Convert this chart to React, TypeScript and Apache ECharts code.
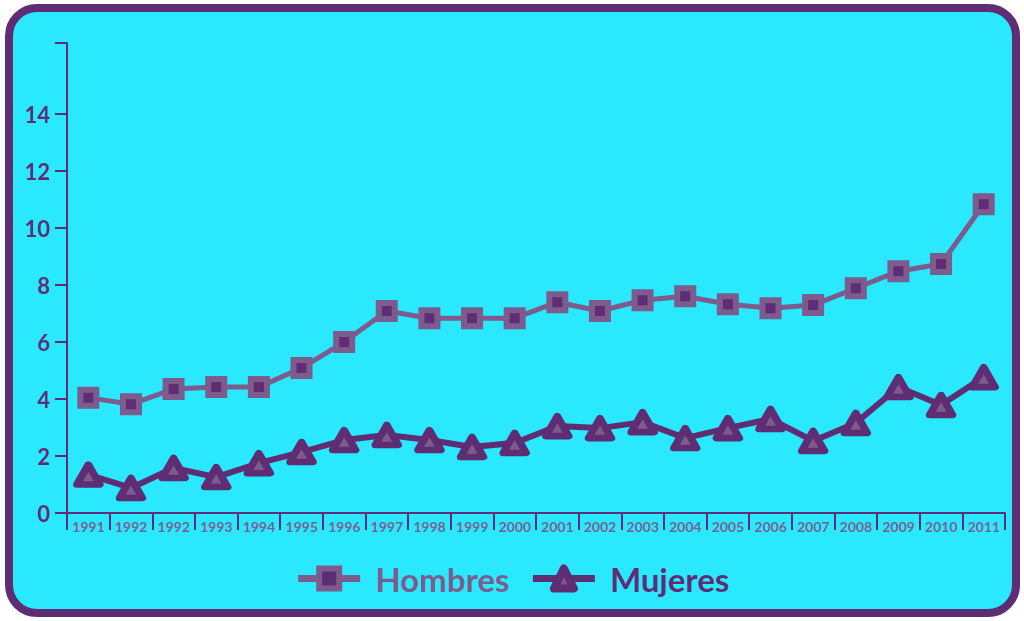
import React, { useEffect, useRef } from "react";
import * as echarts from "echarts";

const categories = [
  "1991", "1992", "1992", "1993", "1994", "1995", "1996", "1997", "1998", "1999", "2000",
  "2001", "2002", "2003", "2004", "2005", "2006", "2007", "2008", "2009", "2010", "2011",
];
const hombres = [4.05, 3.82, 4.35, 4.42, 4.42, 5.09, 6.0, 7.09, 6.84, 6.84, 6.84, 7.4, 7.09, 7.47, 7.61, 7.33, 7.19, 7.3, 7.89, 8.49, 8.74, 10.84];
const mujeres = [1.35, 0.88, 1.58, 1.26, 1.75, 2.14, 2.56, 2.74, 2.56, 2.32, 2.46, 3.05, 2.98, 3.19, 2.63, 2.98, 3.3, 2.53, 3.16, 4.42, 3.79, 4.77];
const yLabelValues = [0, 2, 4, 6, 8, 10, 12, 14];
const yTickValues = [0, 2, 4, 6, 8, 10, 12, 14, 16.5];
const yMax = 16.5;

const DARK = "#5f2d73";
const LIGHT = "#7d5b8d";
const CYAN = "#2ae8fd";
const FONT = "Lato, 'Open Sans', sans-serif";

export default function App() {
  const ref = useRef<HTMLDivElement>(null);
  useEffect(() => {
    const chart = echarts.init(ref.current!, null, { renderer: "svg" });
    chart.setOption({
      animation: false,
      textStyle: { fontFamily: FONT },
      graphic: [
        {
          type: "rect",
          z: -10,
          silent: true,
          shape: { x: 9, y: 8, width: 1007, height: 605, r: 28 },
          style: { fill: CYAN, stroke: DARK, lineWidth: 8 },
        },
      ],
      grid: { left: 67, right: 19, top: 43, bottom: 108, containLabel: false },
      legend: {
        bottom: 21,
        left: "center",
        itemWidth: 62,
        itemHeight: 25,
        itemGap: 20,
        lineStyle: { width: 7 },
        itemStyle: { borderWidth: 6 },
        textStyle: { fontSize: 33, fontWeight: "bold", fontFamily: FONT, padding: [0, 0, 0, 10] },
        data: [
          { name: "Hombres", textStyle: { color: LIGHT } },
          { name: "Mujeres", textStyle: { color: DARK }, itemStyle: { borderWidth: 8, borderJoin: "round" } },
        ],
      },
      xAxis: {
        type: "category",
        data: categories,
        boundaryGap: true,
        axisLine: { show: true, lineStyle: { color: DARK, width: 2 } },
        axisTick: { show: true, alignWithLabel: false, length: 17, lineStyle: { color: DARK, width: 2 } },
        axisLabel: {
          color: LIGHT,
          fontSize: 14,
          fontWeight: "bold",
          margin: 6,
          interval: 0,
          fontFamily: FONT,
        },
        splitLine: { show: false },
      },
      yAxis: {
        type: "value",
        min: 0,
        max: yMax,
        axisLine: { show: true, lineStyle: { color: DARK, width: 2 } },
        axisTick: { show: true, length: 12, lineStyle: { color: DARK, width: 2 }, customValues: yTickValues },
        axisLabel: {
          color: DARK,
          fontSize: 22,
          fontWeight: "bold",
          margin: 17,
          customValues: yLabelValues,
          fontFamily: FONT,
        },
        splitLine: { show: false },
      },
      series: [
        {
          name: "Hombres",
          type: "line",
          data: hombres,
          symbol: "rect",
          symbolSize: 16,
          lineStyle: { color: LIGHT, width: 5 },
          itemStyle: { color: DARK, borderColor: LIGHT, borderWidth: 6 },
          z: 3,
        },
        {
          name: "Mujeres",
          type: "line",
          data: mujeres,
          symbol: "triangle",
          symbolSize: [23, 20],
          lineStyle: { color: DARK, width: 6 },
          itemStyle: { color: LIGHT, borderColor: DARK, borderWidth: 7, borderJoin: "round" },
          z: 4,
        },
      ],
    });
    return () => chart.dispose();
  }, []);
  return <div ref={ref} style={{ position: "fixed", left: 0, top: 0, width: 1024, height: 621 }} />;
}
